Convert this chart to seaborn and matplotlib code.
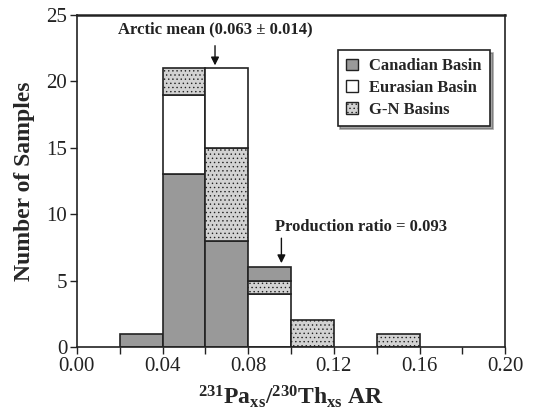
import numpy as np
import matplotlib
matplotlib.use("Agg")
import matplotlib.pyplot as plt
import seaborn as sns
from matplotlib.patches import Patch

# bin left edges (width 0.02)
bin_left = [0.02, 0.04, 0.06, 0.08, 0.10, 0.14]
canadian = [1, 13, 8, 1, 0, 0]
eurasian = [0, 6, 6, 4, 0, 0]
gn = [0, 2, 7, 1, 2, 1]
# stacking order (bottom -> top) as drawn in each bin
stack_order = [
    ["Canadian"],
    ["Canadian", "Eurasian", "G-N"],
    ["Canadian", "G-N", "Eurasian"],
    ["Eurasian", "G-N", "Canadian"],
    ["G-N"],
    ["G-N"],
]
arctic_mean = 0.063
production_ratio = 0.093

sns.set_theme(style="ticks")
plt.rcParams["font.family"] = ["Liberation Serif", "DejaVu Serif"]
plt.rcParams["mathtext.fontset"] = "custom"
plt.rcParams["mathtext.rm"] = "Liberation Serif"
plt.rcParams["mathtext.bf"] = "Liberation Serif:bold"
plt.rcParams["hatch.color"] = "#b8b8b8"
plt.rcParams["hatch.linewidth"] = 0.5

counts = {"Canadian": canadian, "Eurasian": eurasian, "G-N": gn}
styles = {
    "Canadian": dict(facecolor="#999999", hatch=None),
    "Eurasian": dict(facecolor="white", hatch=None),
    "G-N": dict(facecolor="#d2d2d2", hatch="...."),
}

fig = plt.figure(figsize=(5.34, 4.18), dpi=100)
ax = fig.add_axes([0.144, 0.170, 0.802, 0.794])

width = 0.02
for i, left in enumerate(bin_left):
    bottom = 0
    for name in stack_order[i]:
        h = counts[name][i]
        if h == 0:
            continue
        ax.bar(left, h, width=width, bottom=bottom, align="edge",
               edgecolor="#222222", linewidth=1.2, **styles[name])
        bottom += h

ax.set_xlim(0, 0.2)
ax.set_ylim(0, 25)
ax.set_xticks(np.arange(0, 0.201, 0.02), minor=True)
ax.set_xticks(np.arange(0, 0.201, 0.04))
ax.set_xticklabels([f"{v:.2f}" for v in np.arange(0, 0.201, 0.04)])
ax.set_yticks([0, 5, 10, 15, 20, 25])
ax.tick_params(axis="both", labelsize=15, direction="out", length=5, width=1,
               colors="#222222", pad=2)
ax.tick_params(axis="x", which="minor", length=5, width=1, colors="#222222")
for s in ax.spines.values():
    s.set_color("#222222")
    s.set_linewidth(1.2)
ax.spines["top"].set_linewidth(1.8)

ax.set_ylabel("Number of Samples", fontsize=17, fontweight="bold", labelpad=8)
ax.set_xlabel(r"$\mathbf{^{231}Pa_{xs}/^{230}Th_{xs}}$ AR", fontsize=17,
              fontweight="bold", labelpad=6)

ax.annotate("", xy=(arctic_mean + 0.0015, 21.0), xytext=(arctic_mean + 0.0015, 22.9),
            arrowprops=dict(arrowstyle="-|>", color="#111111", lw=1, mutation_scale=12))
ax.text(arctic_mean + 0.0015, 23.9, "Arctic mean (0.063 \u00b1 0.014)", ha="center",
        va="center", fontsize=12, fontweight="bold", color="#222222")
ax.annotate("", xy=(production_ratio + 0.0025, 6.1), xytext=(production_ratio + 0.0025, 8.4),
            arrowprops=dict(arrowstyle="-|>", color="#111111", lw=1, mutation_scale=12))
ax.text(0.0925, 9.0, "Production ratio = 0.093", ha="left", va="center",
        fontsize=12, fontweight="bold", color="#222222")

handles = [
    Patch(facecolor="#999999", edgecolor="#222222", label="Canadian Basin"),
    Patch(facecolor="white", edgecolor="#222222", label="Eurasian Basin"),
    Patch(facecolor="#d2d2d2", edgecolor="#222222", hatch="....", label="G-N Basins"),
]
leg = ax.legend(handles=handles, loc="upper right", bbox_to_anchor=(0.965, 0.895),
                borderaxespad=0, frameon=True, shadow=True, fancybox=False,
                handlelength=0.7, handleheight=0.7, prop=dict(size=12, weight="bold"),
                borderpad=0.5, labelspacing=0.35, handletextpad=0.7)
leg.get_frame().set_edgecolor("#222222")
leg.get_frame().set_linewidth(1.2)

fig.savefig("out.png", dpi=100)
